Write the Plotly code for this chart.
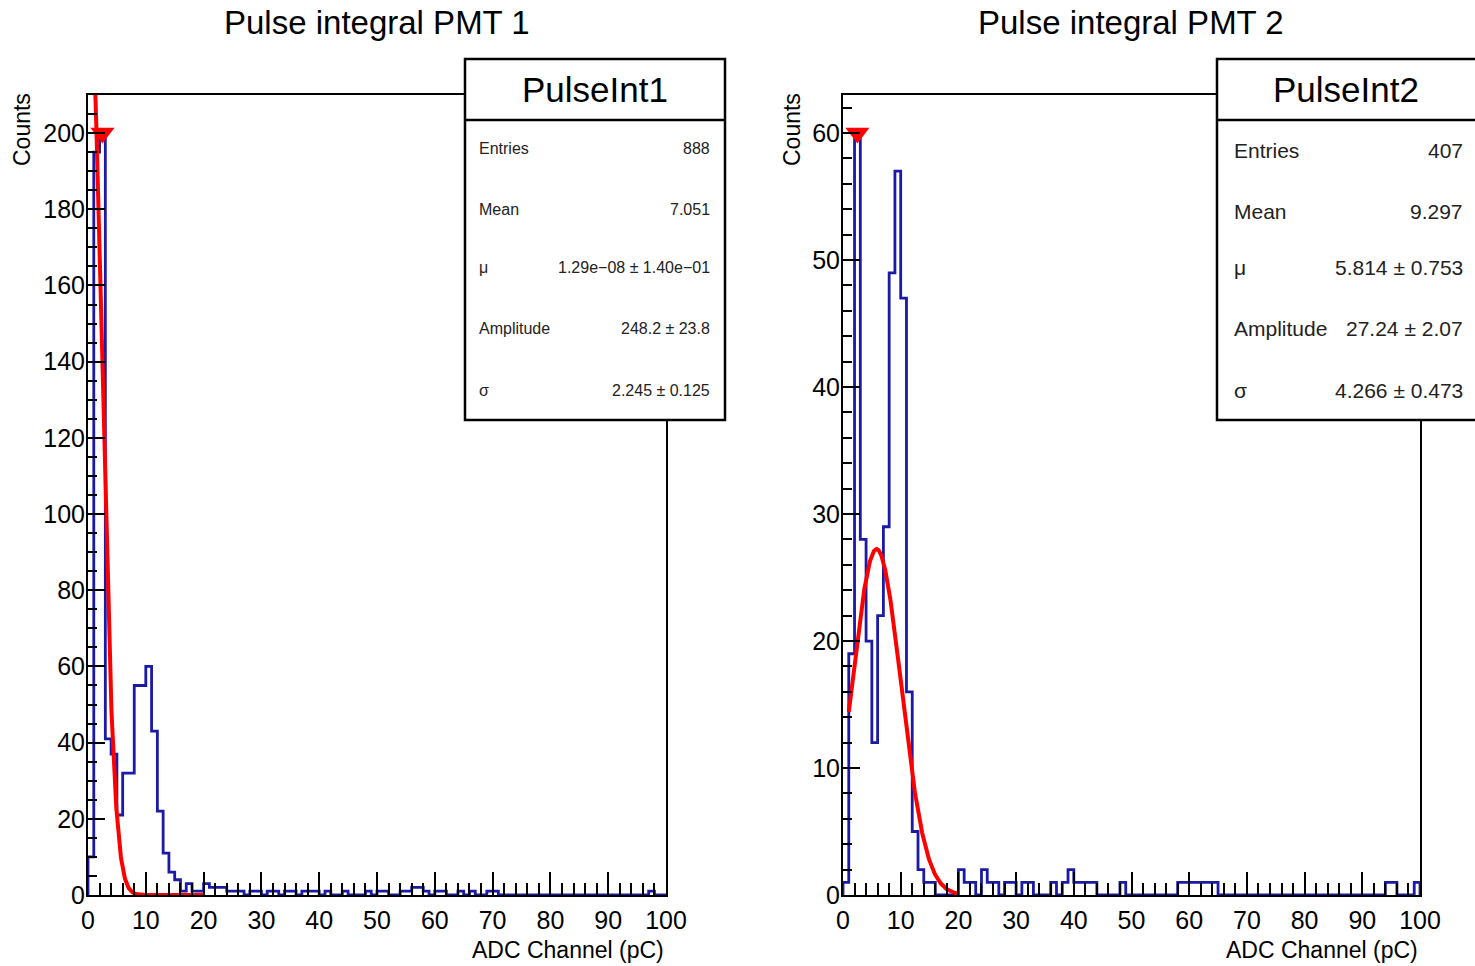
import numpy as np
import plotly.graph_objects as go

# ---------------- data ----------------
x_min, x_max, n_bins = 0, 100, 100

pmt1_counts = [10, 195, 200, 41, 37, 21, 32, 32, 55, 55,
               60, 43, 22, 11, 6, 4, 1, 3, 1, 1,
               3, 2, 2, 2, 1, 1, 1, 0, 1, 1,
               0, 1, 1, 0, 1, 1, 0, 1, 1, 1,
               0, 1, 0, 0, 1, 0, 0, 0, 1, 0,
               1, 1, 0, 0, 1, 1, 2, 2, 1, 0,
               1, 1, 0, 0, 1, 0, 1, 0, 0, 1,
               1, 0, 0, 0, 0, 0, 0, 0, 0, 0,
               0, 0, 0, 0, 0, 0, 0, 0, 0, 0,
               0, 0, 0, 0, 0, 0, 0, 1, 0, 0]

pmt2_counts = [1, 19, 60, 28, 20, 12, 22, 29, 49, 57,
               47, 16, 5, 2, 1, 1, 0, 0, 0, 0,
               2, 1, 1, 0, 2, 1, 1, 0, 1, 1,
               0, 1, 1, 0, 0, 0, 1, 0, 1, 2,
               1, 1, 1, 1, 0, 0, 0, 0, 1, 0,
               0, 0, 0, 0, 0, 0, 0, 0, 1, 1,
               1, 1, 1, 1, 1, 0, 0, 0, 0, 0,
               0, 0, 0, 0, 0, 0, 0, 0, 0, 0,
               0, 0, 0, 0, 0, 0, 0, 0, 0, 0,
               0, 0, 0, 0, 1, 1, 0, 0, 0, 1]

# Gaussian fit parameters (from stats boxes)
fit1 = dict(mu=1.29e-08, amp=248.2, sigma=2.245, lo=0.0, hi=20.0)
fit2 = dict(mu=5.814, amp=27.24, sigma=4.266, lo=1.0, hi=20.0)

stats1_labels = ["Entries", "Mean", "\u03bc", "Amplitude", "\u03c3"]
stats1_values = ["888", "7.051", "1.29e\u221208 \u00b1 1.40e\u221201", "248.2 \u00b1 23.8", "2.245 \u00b1 0.125"]
stats2_labels = ["Entries", "Mean", "\u03bc", "Amplitude", "\u03c3"]
stats2_values = ["407", "9.297", "5.814 \u00b1 0.753", "27.24 \u00b1 2.07", "4.266 \u00b1 0.473"]

titles = ["Pulse integral PMT 1", "Pulse integral PMT 2"]
box_titles = ["PulseInt1", "PulseInt2"]
x_title = "ADC Channel (pC)"
y_title = "Counts"

# ---------------- layout helpers ----------------
W, H = 1475, 966
FONT = "Liberation Sans, Arial, Helvetica, sans-serif"
BLUE = "#1a1aa6"
RED = "#ff0000"


def px(x):
    return x / W


def py(y):
    return 1 - y / H


edges = np.linspace(x_min, x_max, n_bins + 1)

fig = go.Figure()


def hist_trace(counts, xa, ya):
    xs = [edges[0]] + list(edges) + [edges[-1]]
    ys = [0] + list(counts) + [counts[-1], 0]
    return go.Scatter(x=xs, y=ys, mode="lines", line=dict(color=BLUE, width=2.8, shape="hv"),
                      xaxis=xa, yaxis=ya, showlegend=False, hoverinfo="skip")


def fit_trace(p, xa, ya):
    xf = np.linspace(p["lo"], p["hi"], 500)
    yf = p["amp"] * np.exp(-0.5 * ((xf - p["mu"]) / p["sigma"]) ** 2)
    return go.Scatter(x=xf, y=yf, mode="lines", line=dict(color=RED, width=4),
                      xaxis=xa, yaxis=ya, showlegend=False, hoverinfo="skip")


def peak_trace(counts, xa, ya):
    i = int(np.argmax(counts))
    xc = (edges[i] + edges[i + 1]) / 2
    return go.Scatter(x=[xc], y=[counts[i]], mode="markers",
                      marker=dict(symbol="triangle-down", size=21, color=RED, line=dict(width=0)),
                      cliponaxis=False, xaxis=xa, yaxis=ya, showlegend=False, hoverinfo="skip")


fig.add_trace(hist_trace(pmt1_counts, "x", "y"))
fig.add_trace(fit_trace(fit1, "x", "y"))
fig.add_trace(peak_trace(pmt1_counts, "x", "y"))
fig.add_trace(hist_trace(pmt2_counts, "x2", "y2"))
fig.add_trace(fit_trace(fit2, "x2", "y2"))
fig.add_trace(peak_trace(pmt2_counts, "x2", "y2"))

ydom = [py(895), py(95)]
tickfont = dict(family=FONT, size=25, color="black")


def xaxis(dom, anchor):
    return dict(domain=dom, anchor=anchor, range=[x_min, x_max], dtick=10, tick0=0,
                ticks="inside", ticklen=23, tickwidth=2, tickcolor="black",
                minor=dict(dtick=2, tick0=0, ticks="inside", ticklen=12, tickwidth=2, tickcolor="black"),
                showline=True, linecolor="black", linewidth=2, mirror=True, automargin=False,
                showgrid=False, zeroline=False, tickfont=tickfont, ticklabelstandoff=2)


def yaxis(anchor, ymax, dt, mdt):
    return dict(domain=ydom, anchor=anchor, range=[0, ymax], dtick=dt, tick0=0,
                ticks="inside", ticklen=17, tickwidth=2, tickcolor="black",
                minor=dict(dtick=mdt, tick0=0, ticks="inside", ticklen=9, tickwidth=2, tickcolor="black"),
                showline=True, linecolor="black", linewidth=2, mirror=True, automargin=False,
                showgrid=False, zeroline=False, tickfont=tickfont, ticklabelstandoff=-4)


ymax1 = 1.05 * max(pmt1_counts)
ymax2 = 1.05 * max(pmt2_counts)

fig.update_layout(
    width=W, height=H,
    margin=dict(l=0, r=0, t=0, b=0, pad=0, autoexpand=False),
    paper_bgcolor="white", plot_bgcolor="white",
    xaxis=xaxis([px(88), px(666)], "y"),
    yaxis=yaxis("x", ymax1, 20, 5),
    xaxis2=xaxis([px(843), px(1420)], "y2"),
    yaxis2=yaxis("x2", ymax2, 10, 2),
)

shapes = []
ann = []


def add_text(x, y, text, size, xanchor="center", color="black", angle=0):
    ann.append(dict(x=px(x), y=py(y), xref="paper", yref="paper", text=text, showarrow=False,
                    xanchor=xanchor, yanchor="middle", textangle=angle,
                    font=dict(family=FONT, size=size, color=color)))


# titles
for cx, t in zip([377, 1131], titles):
    add_text(cx, 22, t, 33)

# axis titles
for rx in [666, 1420]:
    add_text(rx, 950, x_title, 23, xanchor="right")
for cx in [22, 792]:
    add_text(cx, 130, y_title, 23, angle=-90)

# stats boxes
boxes = [
    dict(x0=465, x1=725, lx=477, rx=712, fs=16, labels=stats1_labels, values=stats1_values,
         title=box_titles[0], rows=[148, 210, 268, 328, 390]),
    dict(x0=1217, x1=1478, lx=1232, rx=1465, fs=21, labels=stats2_labels, values=stats2_values,
         title=box_titles[1], rows=[151, 211, 268, 328, 390]),
]
for b in boxes:
    shapes.append(dict(type="rect", xref="paper", yref="paper", x0=px(b["x0"]), x1=px(b["x1"]),
                       y0=py(420), y1=py(59), fillcolor="white", line=dict(color="black", width=2.5),
                       layer="above"))
    shapes.append(dict(type="line", xref="paper", yref="paper", x0=px(b["x0"]), x1=px(b["x1"]),
                       y0=py(120), y1=py(120), line=dict(color="black", width=2.5), layer="above"))
    add_text((b["x0"] + min(b["x1"], 1475)) / 2, 90, b["title"], 35)
    for lab, val, ry in zip(b["labels"], b["values"], b["rows"]):
        add_text(b["lx"], ry, lab, b["fs"], xanchor="left", color="#222222")
        add_text(b["rx"], ry, val, b["fs"], xanchor="right", color="#222222")

fig.update_layout(shapes=shapes, annotations=ann)
fig.write_html("out.html")
